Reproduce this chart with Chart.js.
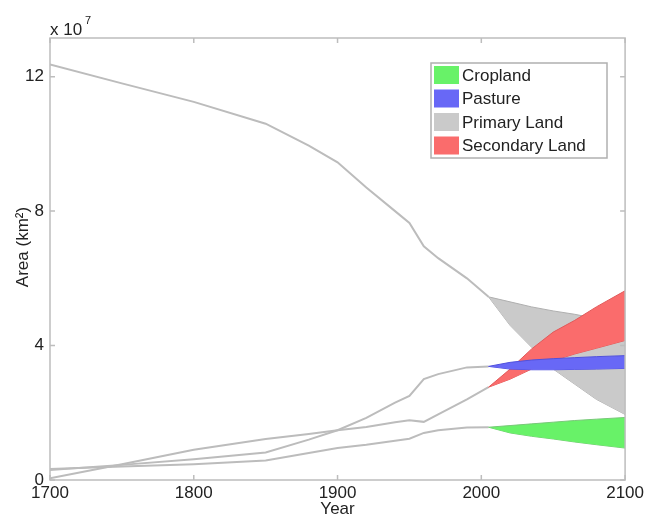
<!DOCTYPE html>
<html><head><meta charset="utf-8">
<script src="https://cdn.jsdelivr.net/npm/chart.js@4.4.1/dist/chart.umd.min.js"></script>
<style>html,body{margin:0;padding:0;background:#fff}#wrap{width:647px;height:521px}</style>
</head><body><div id="wrap"><canvas id="c" width="647" height="521"></canvas></div>
<script>
// values in units of 1e7 km^2
const histYears     = [1700, 1750, 1800, 1850, 1880, 1900, 1920, 1940, 1950, 1960, 1970, 1990, 2005];
const primaryHist   = [12.36, 11.8, 11.25, 10.6, 9.95, 9.45, 8.7, 8.0, 7.65, 6.95, 6.6, 6.0, 5.45];
const pastureHist   = [0.30, 0.45, 0.62, 0.82, 1.2, 1.48, 1.85, 2.3, 2.5, 3.0, 3.15, 3.35, 3.38];
const secondaryHist = [0.05, 0.47, 0.9, 1.22, 1.37, 1.48, 1.58, 1.72, 1.78, 1.73, 1.95, 2.4, 2.76];
const croplandHist  = [0.33, 0.4, 0.47, 0.58, 0.8, 0.95, 1.05, 1.17, 1.23, 1.4, 1.48, 1.56, 1.57];

const futYears       = [2005, 2020, 2035, 2050, 2065, 2080, 2100];
const primaryHigh    = [5.45, 5.3, 5.15, 5.03, 4.93, 4.8, 4.65];
const primaryLow     = [5.45, 4.6, 3.95, 3.3, 2.85, 2.4, 1.95];
const secondaryHigh  = [2.76, 3.3, 3.9, 4.4, 4.75, 5.15, 5.63];
const secondaryLow   = [2.76, 3.0, 3.3, 3.55, 3.75, 3.92, 4.15];
const pastureHigh    = [3.38, 3.5, 3.57, 3.61, 3.64, 3.67, 3.7];
const pastureLow     = [3.38, 3.3, 3.28, 3.28, 3.29, 3.3, 3.32];
const croplandHigh   = [1.57, 1.62, 1.67, 1.72, 1.77, 1.81, 1.86];
const croplandLow    = [1.57, 1.4, 1.3, 1.22, 1.13, 1.05, 0.95];

const legendLabels = ['Cropland', 'Pasture', 'Primary Land', 'Secondary Land'];
const xTicks = [1700, 1800, 1900, 2000, 2100];
const yTicks = [0, 4, 8, 12];

const FILL = {
  crop: 'rgb(104,242,104)', past: 'rgb(104,104,246)',
  prim: 'rgb(202,202,202)', sec: 'rgb(250,108,108)'
};
const EDGE = {
  crop: 'rgb(120,200,120)', past: 'rgb(80,80,220)',
  prim: 'rgb(175,175,175)', sec: 'rgb(225,90,90)'
};
const LINE = 'rgb(188,188,188)';
const FONT = '"Liberation Sans", Arial, sans-serif';

const zip = (xs, ys) => xs.map((x, i) => ({x, y: ys[i]}));
const band = (hi, lo, key) => [
  {data: zip(futYears, hi), borderColor: EDGE[key], borderWidth: 1, backgroundColor: FILL[key], fill: '+1', pointRadius: 0, tension: 0},
  {data: zip(futYears, lo), borderColor: EDGE[key], borderWidth: 1, backgroundColor: FILL[key], fill: false, pointRadius: 0, tension: 0}
];
const hist = (ys) => ({data: zip(histYears, ys), borderColor: LINE, borderWidth: 2, fill: false, pointRadius: 0, tension: 0});

const datasets = [
  ...band(pastureHigh, pastureLow, 'past'),
  ...band(secondaryHigh, secondaryLow, 'sec'),
  ...band(primaryHigh, primaryLow, 'prim'),
  ...band(croplandHigh, croplandLow, 'crop'),
  hist(primaryHist), hist(pastureHist), hist(secondaryHist), hist(croplandHist)
];

const deco = {
  id: 'deco',
  afterDraw(chart) {
    const {ctx, chartArea: a, scales: {x, y}} = chart;
    ctx.save();
    ctx.strokeStyle = '#bdbdbd'; ctx.lineWidth = 1.5;
    ctx.strokeRect(a.left, a.top, a.right - a.left, a.bottom - a.top);
    ctx.beginPath();
    xTicks.forEach(v => { const p = x.getPixelForValue(v);
      ctx.moveTo(p, a.bottom); ctx.lineTo(p, a.bottom - 5);
      ctx.moveTo(p, a.top); ctx.lineTo(p, a.top + 5); });
    yTicks.forEach(v => { const p = y.getPixelForValue(v);
      ctx.moveTo(a.left, p); ctx.lineTo(a.left + 5, p);
      ctx.moveTo(a.right, p); ctx.lineTo(a.right - 5, p); });
    ctx.stroke();

    ctx.fillStyle = '#222';
    ctx.textBaseline = 'middle'; ctx.textAlign = 'left';
    ctx.font = '17px ' + FONT;
    ctx.fillText('x 10', 50, 30);
    ctx.font = '11px ' + FONT;
    ctx.fillText('7', 85, 21);
    ctx.font = '17px ' + FONT;
    ctx.textAlign = 'center';
    ctx.fillText('Year', (a.left + a.right) / 2, 509);
    ctx.save(); ctx.translate(23, 247); ctx.rotate(-Math.PI / 2);
    ctx.fillText('Area (km²)', 0, 0); ctx.restore();

    // legend
    const lx = 431, ly = 63, lw = 176, lh = 95;
    ctx.fillStyle = '#fff'; ctx.fillRect(lx, ly, lw, lh);
    ctx.strokeStyle = '#b0b0b0'; ctx.lineWidth = 1.5; ctx.strokeRect(lx, ly, lw, lh);
    const cols = [FILL.crop, FILL.past, FILL.prim, FILL.sec];
    ctx.textAlign = 'left';
    legendLabels.forEach((t, i) => {
      const cy = 75 + i * 23.5;
      ctx.fillStyle = cols[i]; ctx.fillRect(434, cy - 9, 25, 18);
      ctx.fillStyle = '#222'; ctx.fillText(t, 462, cy + 1);
    });
    ctx.restore();
  }
};

new Chart(document.getElementById('c'), {
  type: 'line',
  data: {datasets},
  options: {
    responsive: false, animation: false, devicePixelRatio: 1,
    layout: {padding: {left: 0, top: 38, right: 21, bottom: 0}},
    plugins: {legend: {display: false}, tooltip: {enabled: false}, filler: {propagate: false}},
    scales: {
      x: {type: 'linear', min: 1700, max: 2100,
        grid: {display: false, drawTicks: false}, border: {display: false},
        ticks: {color: '#222', font: {family: FONT, size: 17}, padding: 3, maxRotation: 0,
          callback: v => String(v)},
        afterBuildTicks: s => { s.ticks = xTicks.map(v => ({value: v})); },
        afterFit: s => { s.height = 41; }},
      y: {type: 'linear', min: 0, max: 13.15,
        grid: {display: false, drawTicks: false}, border: {display: false},
        ticks: {color: '#222', font: {family: FONT, size: 17}, padding: 6,
          callback: v => String(v)},
        afterBuildTicks: s => { s.ticks = yTicks.map(v => ({value: v})); },
        afterFit: s => { s.width = 50; }}
    }
  },
  plugins: [deco]
});
</script></body></html>
